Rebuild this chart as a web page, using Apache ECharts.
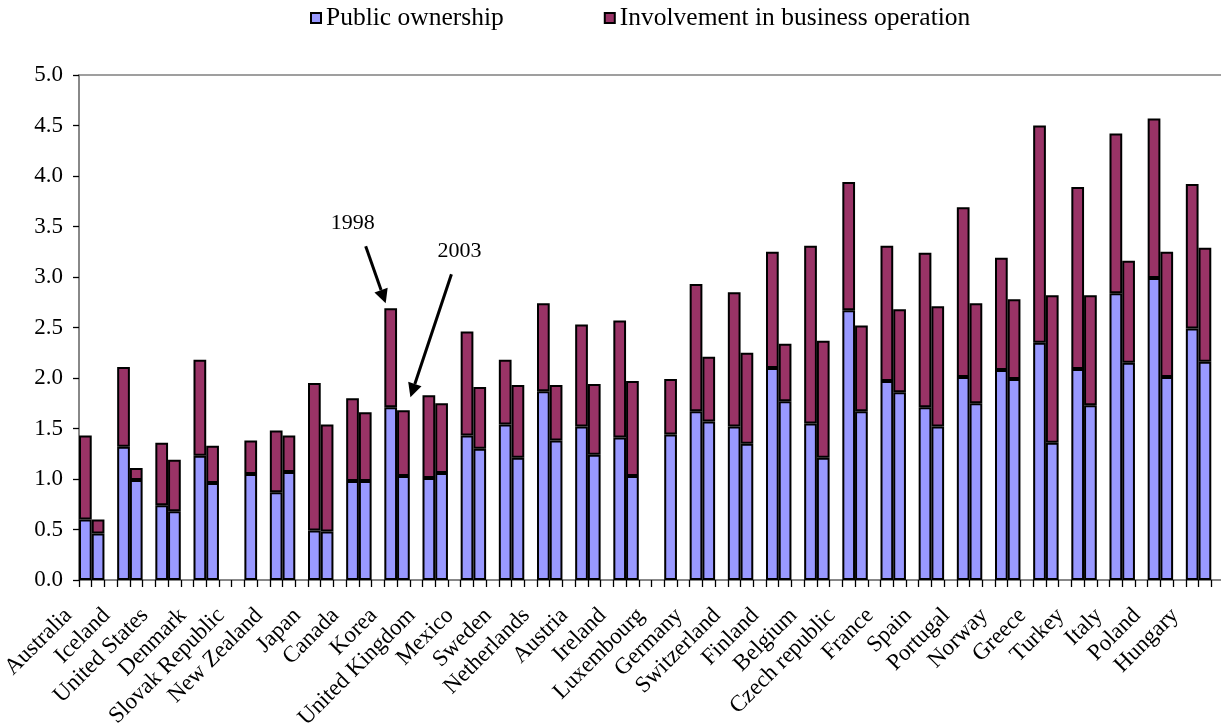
<!DOCTYPE html>
<html>
<head>
<meta charset="utf-8">
<script src="https://cdn.jsdelivr.net/npm/echarts@6/dist/echarts.min.js"></script>
<style>
  html, body { margin: 0; padding: 0; background: #ffffff; }
  #chart { width: 1221px; height: 724px; }
  #probe { width: 1221px; height: 724px; position: absolute; left: 0; top: 0; visibility: hidden; }
</style>
</head>
<body>
<div id="chart"></div>
<div id="probe"></div>
<script>
// ---- data ----
const countries = ['Australia','Iceland','United States','Denmark','Slovak Republic','New Zealand','Japan','Canada','Korea','United Kingdom','Mexico','Sweden','Netherlands','Austria','Ireland','Luxembourg','Germany','Switzerland','Finland','Belgium','Czech republic','France','Spain','Portugal','Norway','Greece','Turkey','Italy','Poland','Hungary'];
const seriesNames = ['Public ownership', 'Involvement in business operation'];
const public1998 = [0.60,1.32,0.74,1.23,null,0.87,0.49,0.98,1.71,1.01,1.43,1.54,1.87,1.52,1.41,null,1.67,1.52,2.10,1.55,2.67,1.97,1.71,2.01,2.08,2.35,2.09,2.84,2.99,2.49];
const involvement1998 = [0.83,0.79,0.62,0.95,null,0.61,1.46,0.82,0.98,0.82,1.03,0.64,0.87,1.01,1.16,null,1.26,1.33,1.15,1.76,1.27,1.34,1.53,1.68,1.11,2.15,1.80,1.58,1.58,1.43];
const public2003 = [0.46,0.99,0.68,0.96,1.05,1.07,0.48,0.98,1.03,1.06,1.30,1.21,1.38,1.24,1.03,1.44,1.57,1.35,1.77,1.21,1.67,1.86,1.52,1.75,1.99,1.36,1.73,2.15,2.01,2.16];
const involvement2003 = [0.14,0.12,0.51,0.37,0.33,0.36,1.06,0.68,0.65,0.69,0.61,0.72,0.55,0.70,0.94,0.55,0.64,0.90,0.57,1.16,0.85,0.82,1.19,0.99,0.79,1.46,1.09,1.01,1.24,1.13];
const yTicks = ['0.0','0.5','1.0','1.5','2.0','2.5','3.0','3.5','4.0','4.5','5.0'];
const annotationCountry = 'Korea';
const annotationLabels = ['1998', '2003'];

// ---- build slot layout: 1998 bar, 2003 bar, empty gap per country ----
const slots = [];
countries.forEach(c => { slots.push(c, c + '#2003', c + '#gap'); });
const toSlots = (a, b) => {
  const out = [];
  countries.forEach((c, i) => { out.push(a[i], b[i], null); });
  return out;
};
const publicSlots = toSlots(public1998, public2003);
const involvementSlots = toSlots(involvement1998, involvement2003);

const FONT = "'Liberation Serif', 'Times New Roman', serif";

function baseOption() {
  return {
    backgroundColor: '#ffffff',
    animation: false,
    legend: {
      top: 0,
      left: 305,
      itemWidth: 10,
      itemHeight: 10,
      itemGap: 100,
      icon: 'rect',
      textStyle: { fontFamily: FONT, fontSize: 25.5, color: '#000' },
      data: seriesNames.map(n => ({ name: n, itemStyle: { borderColor: '#000', borderWidth: 2 } }))
    },
    grid: {
      left: 79, right: -3, top: 75, bottom: 144,
      show: true, borderColor: '#808080', borderWidth: 1.5,
      outerBoundsMode: 'none'
    },
    xAxis: {
      type: 'category',
      data: slots,
      boundaryGap: true,
      axisLine: { show: true, lineStyle: { color: '#808080', width: 1.5 } },
      axisTick: { show: true, interval: 0, length: 7, lineStyle: { color: '#000', width: 1.3 } },
      axisLabel: {
        interval: (idx) => idx % 3 === 0,
        rotate: 45,
        margin: 15,
        padding: [0, 24, 0, 0],
        fontFamily: FONT, fontSize: 23, color: '#000',
        formatter: (v) => v.split('#')[0]
      },
      splitLine: { show: false }
    },
    yAxis: {
      type: 'value',
      min: 0, max: 5, interval: 0.5,
      axisLine: { show: true, lineStyle: { color: '#808080', width: 1.5 } },
      axisTick: { show: true, length: 6, lineStyle: { color: '#000', width: 1.3 } },
      axisLabel: {
        margin: 16,
        fontFamily: FONT, fontSize: 23, color: '#000',
        formatter: (v) => yTicks[Math.round(v / 0.5)] || v.toFixed(1)
      },
      splitLine: { show: false }
    },
    series: [
      {
        name: seriesNames[0], type: 'bar', stack: 'total',
        data: publicSlots, barCategoryGap: '0%',
        itemStyle: { color: '#9999FF', borderColor: '#000', borderWidth: 2 }
      },
      {
        name: seriesNames[1], type: 'bar', stack: 'total',
        data: involvementSlots, barCategoryGap: '0%',
        itemStyle: { color: '#993366', borderColor: '#000', borderWidth: 2 }
      }
    ]
  };
}

// ---- measure annotation anchor points on an identical hidden chart ----
const probeEl = document.getElementById('probe');
const probe = echarts.init(probeEl);
probe.setOption(baseOption());
const ki = countries.indexOf(annotationCountry);
const top98 = probe.convertToPixel({ xAxisIndex: 0, yAxisIndex: 0 }, [ki * 3, public1998[ki] + involvement1998[ki]]);
const top03 = probe.convertToPixel({ xAxisIndex: 0, yAxisIndex: 0 }, [ki * 3 + 1, public2003[ki] + involvement2003[ki]]);
probe.dispose();
probeEl.parentNode.removeChild(probeEl);

function arrow(from, to) {
  const dx = to[0] - from[0], dy = to[1] - from[1];
  const len = Math.sqrt(dx * dx + dy * dy);
  const ux = dx / len, uy = dy / len;
  const headL = 14, headW = 7;
  const bx = to[0] - ux * headL, by = to[1] - uy * headL;
  return [
    { type: 'line', silent: true, shape: { x1: from[0], y1: from[1], x2: bx, y2: by }, style: { stroke: '#000', lineWidth: 3 } },
    { type: 'polygon', silent: true, shape: { points: [[to[0], to[1]], [bx - uy * headW, by + ux * headW], [bx + uy * headW, by - ux * headW]] }, style: { fill: '#000' } }
  ];
}
const tip98 = [top98[0] - 5, top98[1] - 5];
const tip03 = [top03[0] + 7, top03[1] - 13];
const start98 = [tip98[0] - 20, tip98[1] - 57];
const start03 = [tip03[0] + 41, tip03[1] - 123];
const elements = [].concat(
  arrow(start98, tip98),
  arrow(start03, tip03),
  [
    { type: 'text', silent: true, x: tip98[0] - 33, y: tip98[1] - 80, style: { text: annotationLabels[0], font: '22px ' + FONT, fill: '#000', align: 'center', verticalAlign: 'middle' } },
    { type: 'text', silent: true, x: tip03[0] + 49, y: tip03[1] - 146, style: { text: annotationLabels[1], font: '22px ' + FONT, fill: '#000', align: 'center', verticalAlign: 'middle' } }
  ]
);

// ---- the real chart: a single setOption including the annotations ----
const chart = echarts.init(document.getElementById('chart'));
const option = baseOption();
option.graphic = { elements: elements };
chart.setOption(option);
</script>
</body>
</html>
